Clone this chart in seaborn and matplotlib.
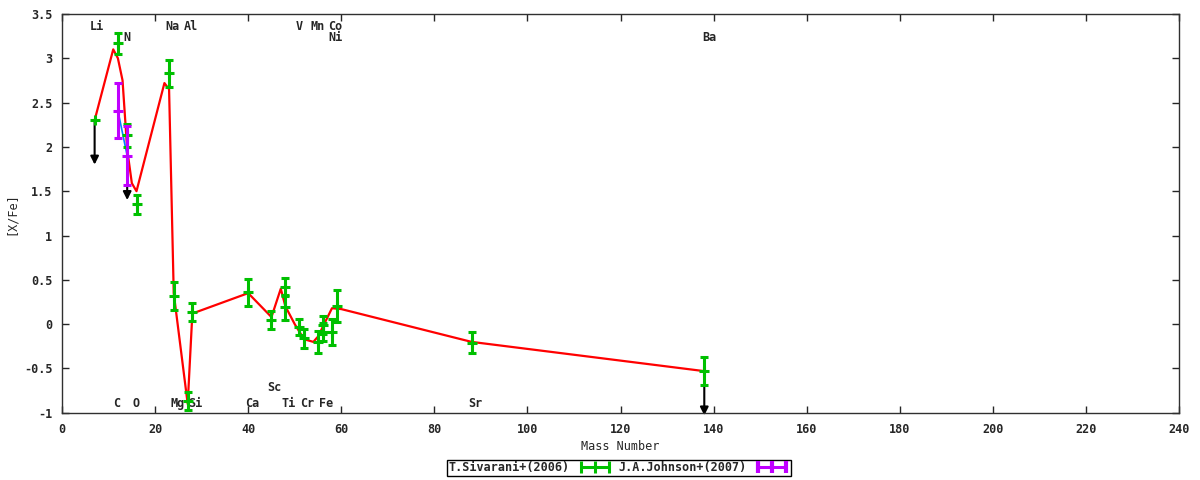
import numpy as np
import pandas as pd
import seaborn as sns
import matplotlib.pyplot as plt
from matplotlib.lines import Line2D

# model curve (red line)
model_mass = [7, 11, 12, 13, 14, 15, 16, 22, 23, 24, 27, 28, 40, 45, 47, 48, 50, 52, 54, 55, 58, 60, 88, 138]
model_val = [2.30, 3.10, 3.00, 2.75, 1.97, 1.59, 1.50, 2.72, 2.65, 0.35, -0.90, 0.12, 0.35, 0.08, 0.40,
             0.20, 0.00, -0.17, -0.20, -0.14, 0.18, 0.17, -0.20, -0.53]

# T.Sivarani+(2006)
siv_mass = [12, 14, 16, 23, 24, 27, 28, 40, 45, 48, 48, 51, 52, 55, 56, 56, 58, 59, 88, 138]
siv_val = [3.17, 2.13, 1.35, 2.83, 0.32, -0.87, 0.14, 0.36, 0.05, 0.42, 0.19, -0.03, -0.16, -0.20,
           -0.01, -0.09, -0.09, 0.21, -0.21, -0.53]
siv_err = [0.12, 0.13, 0.11, 0.15, 0.155, 0.10, 0.10, 0.15, 0.10, 0.10, 0.14, 0.09, 0.11, 0.12,
           0.10, 0.10, 0.15, 0.18, 0.12, 0.16]
siv_lim_mass = [7]
siv_lim_val = [2.30]

# J.A.Johnson+(2007)
joh_mass = [12, 14]
joh_val = [2.41, 1.90]
joh_err = [0.31, 0.33]

# upper limits (arrows)
lim_mass = [7, 14, 138]
lim_val = [2.30, 1.90, -0.53]
lim_len = 0.5

# element labels
lab_text = ['Li', 'Na', 'Al', 'V', 'Mn', 'Co', 'N', 'Ni', 'Ba',
            'C', 'O', 'Mg', 'Si', 'Ca', 'Ti', 'Cr', 'Fe', 'Sr', 'Sc']
lab_x = [7.5, 23.8, 27.6, 50.9, 54.9, 58.6, 14.0, 58.8, 139.0,
         11.8, 15.9, 24.9, 28.7, 40.8, 48.7, 52.7, 56.8, 88.9, 45.7]
lab_y = [3.36, 3.36, 3.36, 3.36, 3.36, 3.36, 3.23, 3.23, 3.23,
         -0.89, -0.89, -0.89, -0.89, -0.89, -0.89, -0.89, -0.89, -0.89, -0.71]

green = '#00c000'
purple = '#c000ff'

sns.set_style("ticks")
plt.rcParams['font.family'] = ['DejaVu Sans Mono']
plt.rcParams['font.weight'] = 'bold'
plt.rcParams['font.size'] = 8.5

fig, ax = plt.subplots(figsize=(12, 4.8), dpi=100)
fig.subplots_adjust(left=0.0517, right=0.9825, top=0.971, bottom=0.14)

sns.lineplot(x=model_mass, y=model_val, color='#ff0000', lw=1.6, ax=ax, sort=False, estimator=None, zorder=2)
sns.lineplot(x=joh_mass, y=joh_val, color='#0080ff', lw=1.2, ax=ax, sort=False, estimator=None, zorder=2)

bar_kw = dict(fmt='+', ms=7.7, mew=2.2, elinewidth=2.2, capsize=3, capthick=2.2)
ax.errorbar(siv_mass, siv_val, yerr=siv_err, color=green, zorder=3, **bar_kw)
ax.plot(siv_lim_mass, siv_lim_val, '+', color=green, ms=7.7, mew=2.2, zorder=3)
ax.errorbar(joh_mass, joh_val, yerr=joh_err, color=purple, zorder=4, **bar_kw)

for m, v in zip(lim_mass, lim_val):
    ax.annotate('', xy=(m, v - lim_len), xytext=(m, v),
                arrowprops=dict(arrowstyle='-|>', color='black', lw=1.5,
                                mutation_scale=12, shrinkA=0, shrinkB=0),
                annotation_clip=False, zorder=2.5)

for t, x, y in zip(lab_text, lab_x, lab_y):
    ax.text(x, y, t, ha='center', va='center', fontsize=8.5)

ax.set_xlim(0, 240)
ax.set_ylim(-1, 3.5)
ax.set_xticks(np.arange(0, 241, 20))
yt = np.arange(-1, 3.51, 0.5)
ax.set_yticks(yt)
ax.set_yticklabels([f'{v:g}' for v in yt])
ax.tick_params(direction='in', top=True, right=True, length=5, width=1, pad=7, labelsize=8.5)
for s in ax.spines.values():
    s.set_color('#303030')
    s.set_linewidth(1)
ax.set_xlabel('Mass Number', fontsize=8.5, labelpad=3)
ax.set_ylabel('[X/Fe]', fontsize=8.5, labelpad=4)

h_siv = Line2D([], [], color=green, lw=2.2, marker='|', ms=8, mew=2.2)
h_joh = Line2D([], [], color=purple, lw=2.2, marker='|', ms=8, mew=3)
leg = fig.legend([h_siv, h_joh], ['T.Sivarani+(2006)', 'J.A.Johnson+(2007)'],
                 loc='center', bbox_to_anchor=(0.516, 0.025), ncol=2, frameon=True,
                 fancybox=False, edgecolor='black', markerfirst=False, numpoints=3,
                 handlelength=3, columnspacing=0.45, borderpad=0.15, handletextpad=0.65,
                 borderaxespad=0.3, fontsize=8.5, framealpha=1)
leg.get_frame().set_linewidth(1)

fig.savefig('out.png', dpi=100)
